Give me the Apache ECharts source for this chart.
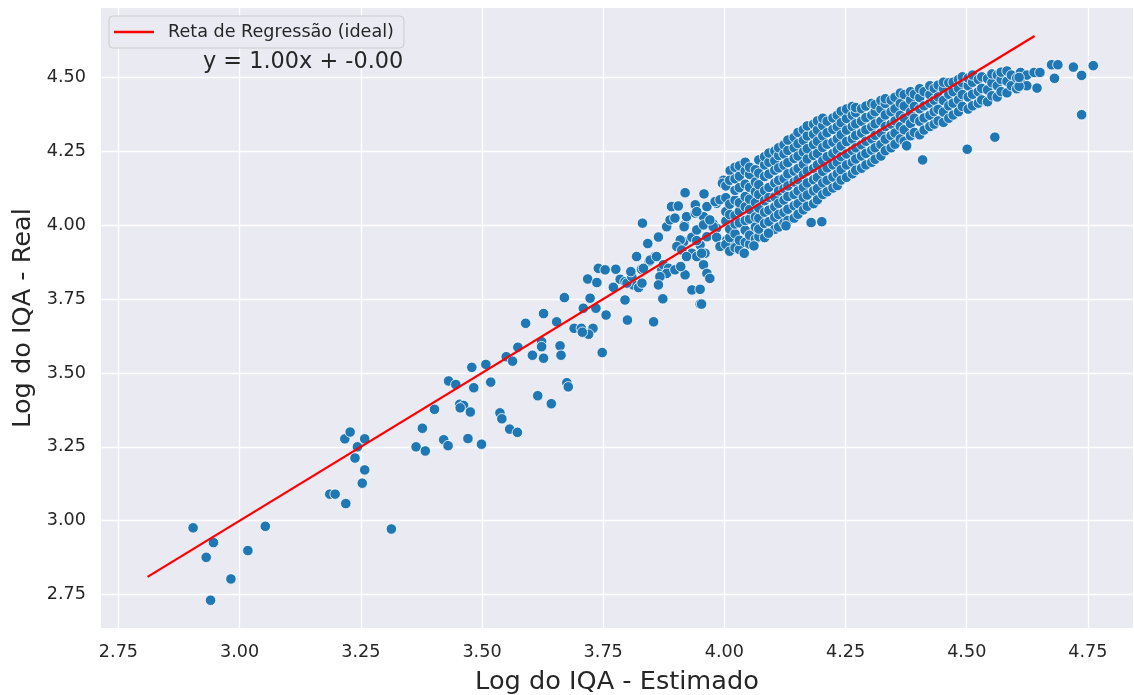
<!DOCTYPE html>
<html><head><meta charset="utf-8">
<script src="https://cdn.jsdelivr.net/npm/echarts@6/dist/echarts.min.js"></script>
<style>html,body{margin:0;padding:0;background:#fff}#c{width:1134px;height:695px}</style>
</head><body><div id="c"></div>
<script>
const xTicks = [2.75, 3.00, 3.25, 3.50, 3.75, 4.00, 4.25, 4.50, 4.75];
const yTicks = [2.75, 3.00, 3.25, 3.50, 3.75, 4.00, 4.25, 4.50];
const xLabel = 'Log do IQA - Estimado';
const yLabel = 'Log do IQA - Real';
const lineName = 'Reta de Regressão (ideal)';
const equationText = 'y = 1.00x + -0.00';
const lineX = [2.81, 4.64];
const lineY = [2.81, 4.64];

const lowPoints = [
  [2.904,2.976],[2.946,2.926],[2.931,2.876],[2.982,2.803],[2.940,2.731],[3.017,2.899],[3.053,2.981],
  [3.217,3.277],[3.228,3.300],[3.258,3.277],[3.243,3.250],[3.238,3.212],[3.258,3.172],[3.253,3.127],
  [3.186,3.090],[3.197,3.090],[3.219,3.058],[3.313,2.972],
  [3.364,3.250],[3.383,3.236],[3.377,3.313],[3.402,3.377],[3.421,3.274],[3.430,3.254],[3.431,3.473],[3.446,3.461],
  [3.454,3.394],[3.462,3.390],[3.455,3.382],[3.476,3.368],[3.471,3.278],[3.499,3.259],
  [3.537,3.365],[3.541,3.345],[3.557,3.310],[3.573,3.299],[3.615,3.423],[3.643,3.396],
  [3.675,3.467],[3.678,3.453],[3.748,3.569]
];
const midPoints = [
  [3.479,3.519],[3.508,3.529],[3.483,3.450],[3.518,3.469],
  [3.550,3.555],[3.563,3.540],[3.574,3.587],[3.590,3.668],
  [3.604,3.560],[3.623,3.606],[3.623,3.589],[3.627,3.550],[3.661,3.592],[3.663,3.560],
  [3.627,3.701],[3.654,3.673],[3.670,3.755],
  [3.690,3.651],[3.705,3.651],[3.729,3.651],[3.720,3.631],[3.707,3.638],
  [3.756,3.696],
  [3.718,3.818],[3.737,3.806],[3.723,3.753],[3.709,3.719],[3.735,3.719],
  [3.740,3.854],[3.754,3.849],[3.776,3.851],
  [3.771,3.790],[3.785,3.817],[3.795,3.809],[3.812,3.798],[3.823,3.789],[3.799,3.804],[3.830,3.804],[3.809,3.826],
  [3.795,3.747],[3.800,3.679],[3.854,3.673],[3.873,3.751],
  [3.831,4.007],[3.842,3.938],[3.864,3.960],[3.819,3.894],[3.845,3.877],[3.857,3.894],[3.871,3.849],[3.883,3.846],
  [3.807,3.843],[3.829,3.851],[3.833,3.854],[3.847,3.882],[3.860,3.894],
  [3.874,3.866],[3.885,3.854],[3.881,3.837],[3.867,3.826],[3.864,3.798],
  [3.881,3.995],[3.891,4.063],[3.905,4.065],[3.888,4.018],[3.898,4.024],[3.918,4.001],[3.917,3.995],[3.922,4.029],
  [3.940,4.069],[3.940,4.041],[3.957,4.029],[3.964,4.063],[3.943,4.046],
  [3.909,3.939],[3.916,3.944],[3.936,3.961],[3.950,3.933],[3.960,3.905],[3.922,3.899],[3.933,3.905],
  [3.909,3.950],[3.933,3.959],[3.943,3.948],[3.964,3.961],[3.943,3.984],[3.957,4.001],[3.977,4.004],[3.984,3.990],
  [3.909,3.860],[3.898,3.849],[3.919,3.832],[3.910,3.860],[3.957,3.866],[3.964,3.837],[3.970,3.820],
  [3.902,3.928],[3.912,3.916],[3.922,3.894],[3.943,3.894],[3.953,3.905],
  [3.933,3.781],[3.950,3.783],[3.950,3.733],[3.953,3.733],
  [3.977,3.995],[3.970,4.018],[3.984,4.074],
  [3.919,4.110],[3.958,4.106],[3.981,4.080],[3.991,4.086],[3.998,4.152],[3.996,4.142],[4.012,4.185],
  [3.984,3.959],[3.991,3.928],[4.005,3.950],[4.012,3.939]
];
// dense band: each entry is an x value and the y values read in that column
const denseColumns = [
  [4.003,[3.935,4.014,4.046,4.093,4.133]],
  [4.011,[3.912,3.958,3.987,4.036,4.071,4.152]],
  [4.022,[3.924,3.971,4.004,4.033,4.085,4.118,4.157,4.196]],
  [4.031,[3.918,3.949,4.008,4.047,4.076,4.127,4.166,4.201]],
  [4.043,[3.942,3.983,4.016,4.062,4.097,4.139,4.184,4.213]],
  [4.052,[3.936,3.966,4.021,4.053,4.088,4.128,4.172,4.196]],
  [4.064,[3.953,3.994,4.028,4.077,4.113,4.146,4.188]],
  [4.071,[3.961,3.987,4.024,4.058,4.104,4.137,4.176,4.221]],
  [4.083,[3.958,4.006,4.044,4.083,4.117,4.165,4.204,4.232]],
  [4.092,[3.975,4.012,4.051,4.094,4.128,4.173,4.213,4.244]],
  [4.104,[3.986,4.027,4.062,4.096,4.143,4.186,4.218,4.251]],
  [4.112,[3.994,4.036,4.074,4.116,4.152,4.194,4.236,4.262]],
  [4.123,[4.008,4.043,4.085,4.124,4.158,4.203,4.241,4.272]],
  [4.131,[4.016,4.054,4.097,4.133,4.174,4.212,4.253,4.288]],
  [4.144,[4.024,4.066,4.104,4.146,4.183,4.226,4.262,4.297]],
  [4.152,[4.037,4.073,4.116,4.154,4.192,4.234,4.276,4.314]],
  [4.163,[4.052,4.094,4.128,4.171,4.206,4.248,4.287,4.323]],
  [4.171,[4.064,4.102,4.143,4.183,4.224,4.259,4.302,4.336]],
  [4.184,[4.073,4.116,4.154,4.192,4.236,4.273,4.308,4.342]],
  [4.192,[4.086,4.124,4.162,4.204,4.243,4.284,4.322,4.353]],
  [4.203,[4.104,4.143,4.182,4.218,4.263,4.302,4.337,4.362]],
  [4.212,[4.113,4.152,4.194,4.232,4.274,4.313,4.352]],
  [4.224,[4.126,4.163,4.204,4.243,4.281,4.324,4.363]],
  [4.233,[4.134,4.174,4.213,4.254,4.292,4.333,4.372]],
  [4.241,[4.153,4.188,4.232,4.268,4.306,4.347,4.386]],
  [4.252,[4.162,4.204,4.241,4.283,4.322,4.361,4.393]],
  [4.264,[4.174,4.213,4.253,4.292,4.334,4.372,4.402]],
  [4.271,[4.186,4.224,4.262,4.304,4.343,4.381,4.398]],
  [4.283,[4.193,4.234,4.272,4.312,4.352,4.394]],
  [4.292,[4.204,4.243,4.284,4.323,4.364,4.403]],
  [4.304,[4.213,4.254,4.292,4.333,4.372,4.412]],
  [4.311,[4.223,4.262,4.304,4.343,4.384,4.408]],
  [4.323,[4.234,4.273,4.312,4.352,4.393,4.422]],
  [4.332,[4.252,4.291,4.334,4.373,4.412,4.428]],
  [4.344,[4.262,4.303,4.342,4.384,4.423]],
  [4.352,[4.274,4.312,4.353,4.394,4.433]],
  [4.363,[4.292,4.334,4.372,4.412,4.447]],
  [4.371,[4.284,4.323,4.362,4.403,4.442]],
  [4.384,[4.303,4.344,4.383,4.424,4.452]],
  [4.392,[4.314,4.362,4.402,4.443]],
  [4.403,[4.306,4.352,4.394,4.432,4.462]],
  [4.412,[4.322,4.363,4.404,4.452]],
  [4.424,[4.334,4.372,4.413,4.442,4.472]],
  [4.433,[4.342,4.384,4.423,4.463]],
  [4.441,[4.353,4.392,4.434,4.474]],
  [4.452,[4.348,4.383,4.422,4.462,4.484]],
  [4.463,[4.362,4.404,4.443,4.482]],
  [4.472,[4.373,4.413,4.452,4.484]],
  [4.483,[4.384,4.424,4.463,4.493]],
  [4.491,[4.402,4.442,4.482,4.502]],
  [4.503,[4.393,4.434,4.472,4.498]],
  [4.512,[4.404,4.443,4.484,4.508]],
  [4.524,[4.413,4.452,4.493]],
  [4.531,[4.424,4.463,4.502]],
  [4.543,[4.418,4.458,4.496]],
  [4.552,[4.438,4.482,4.512]],
  [4.563,[4.434,4.472,4.508]],
  [4.571,[4.452,4.493,4.518]],
  [4.583,[4.448,4.487,4.522]],
  [4.592,[4.472,4.508]],
  [4.603,[4.462,4.498]],
  [4.611,[4.483,4.517]],
  [4.624,[4.472,4.508]]
];
const outlierPoints = [
  [4.041,3.905],[4.061,3.930],[4.091,3.973],[4.127,3.998],[4.179,4.009],[4.201,4.012],
  [4.376,4.269],[4.409,4.221],[4.501,4.257],[4.558,4.298],[4.737,4.374],
  [4.608,4.470],[4.608,4.500],[4.639,4.517],[4.651,4.517],[4.645,4.464],[4.675,4.543],
  [4.688,4.543],[4.681,4.497],[4.720,4.535],[4.737,4.507],[4.761,4.540]
];

const densePoints = [];
denseColumns.forEach(function (col) { col[1].forEach(function (y) { densePoints.push([col[0], y]); }); });
const scatterData = lowPoints.concat(midPoints, densePoints, outlierPoints);

const FONT = 'DejaVu Sans';
const TXT = '#262626';
const chart = echarts.init(document.getElementById('c'), null, {renderer: 'canvas'});
chart.setOption({
  animation: false,
  backgroundColor: '#ffffff',
  grid: {left: 101, right: 1, top: 8, bottom: 67, show: true, backgroundColor: '#EAEAF2', borderWidth: 0,
    containLabel: false, outerBoundsMode: 'none'},
  xAxis: {
    type: 'value', min: 2.714, max: 4.843,
    name: xLabel, nameLocation: 'middle', nameGap: 41,
    nameTextStyle: {fontFamily: FONT, fontSize: 25.6, color: TXT},
    axisLine: {show: false},
    axisTick: {show: false, customValues: xTicks},
    axisLabel: {customValues: xTicks, margin: 15, fontFamily: FONT, fontSize: 17.6, color: TXT,
      formatter: function (v) { return v.toFixed(2); }},
    splitLine: {show: true, lineStyle: {color: '#ffffff', width: 1.3}}
  },
  yAxis: {
    type: 'value', min: 2.637, max: 4.735,
    name: yLabel, nameLocation: 'middle', nameGap: 64, nameRotate: 90,
    nameTextStyle: {fontFamily: FONT, fontSize: 25.6, color: TXT},
    axisLine: {show: false},
    axisTick: {show: false, customValues: yTicks},
    axisLabel: {customValues: yTicks, margin: 15, fontFamily: FONT, fontSize: 17.6, color: TXT,
      formatter: function (v) { return v.toFixed(2); }},
    splitLine: {show: true, lineStyle: {color: '#ffffff', width: 1.3}}
  },
  legend: {
    data: [lineName], left: 109, top: 16, padding: [7, 10, 7, 5],
    itemWidth: 40, itemHeight: 2.5, icon: 'rect',
    backgroundColor: '#EAEAF2', borderColor: '#CCCCCC', borderWidth: 1, borderRadius: 4,
    textStyle: {fontFamily: FONT, fontSize: 17.6, color: TXT, padding: [0, 0, 0, 9]}
  },
  graphic: [{
    type: 'text', left: 203, top: 51, z: 100,
    style: {text: equationText, fontFamily: FONT, fontSize: 22.4, fill: TXT}
  }],
  series: [
    {
      name: 'dados', type: 'scatter', data: scatterData, symbol: 'circle', symbolSize: 10.5,
      itemStyle: {color: '#1f77b4', borderColor: '#ffffff', borderWidth: 0.8, opacity: 1},
      z: 2
    },
    {
      name: lineName, type: 'line', data: [[lineX[0], lineY[0]], [lineX[1], lineY[1]]],
      symbol: 'none', lineStyle: {color: '#ff0000', width: 2.3}, itemStyle: {color: '#ff0000'}, z: 3
    }
  ]
});
</script>
</body></html>
